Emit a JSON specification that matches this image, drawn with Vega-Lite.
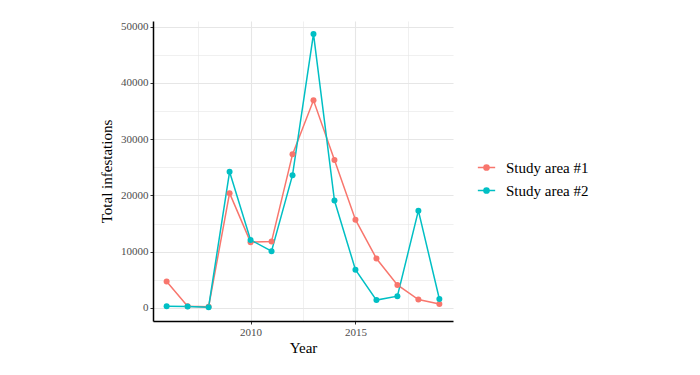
{
  "$schema": "https://vega.github.io/schema/vega-lite/v6.json",
  "width": 300,
  "height": 300,
  "autosize": {"type": "none"},
  "padding": {"left": 153, "top": 21, "right": 247, "bottom": 54},
  "background": "white",
  "config": {
    "font": "Liberation Serif",
    "axis": {"labelFont": "Liberation Serif", "titleFont": "Liberation Serif"},
    "legend": {"labelFont": "Liberation Serif"},
    "view": {"stroke": null}
  },
  "data": {
    "values": [
      {"year": 2006, "area": "Study area #1", "total": 4700},
      {"year": 2007, "area": "Study area #1", "total": 300},
      {"year": 2008, "area": "Study area #1", "total": 200},
      {"year": 2009, "area": "Study area #1", "total": 20400},
      {"year": 2010, "area": "Study area #1", "total": 11700},
      {"year": 2011, "area": "Study area #1", "total": 11800},
      {"year": 2012, "area": "Study area #1", "total": 27300},
      {"year": 2013, "area": "Study area #1", "total": 36900},
      {"year": 2014, "area": "Study area #1", "total": 26300},
      {"year": 2015, "area": "Study area #1", "total": 15700},
      {"year": 2016, "area": "Study area #1", "total": 8800},
      {"year": 2017, "area": "Study area #1", "total": 4100},
      {"year": 2018, "area": "Study area #1", "total": 1500},
      {"year": 2019, "area": "Study area #1", "total": 700},
      {"year": 2006, "area": "Study area #2", "total": 300},
      {"year": 2007, "area": "Study area #2", "total": 250},
      {"year": 2008, "area": "Study area #2", "total": 150},
      {"year": 2009, "area": "Study area #2", "total": 24200},
      {"year": 2010, "area": "Study area #2", "total": 12100},
      {"year": 2011, "area": "Study area #2", "total": 10100},
      {"year": 2012, "area": "Study area #2", "total": 23600},
      {"year": 2013, "area": "Study area #2", "total": 48700},
      {"year": 2014, "area": "Study area #2", "total": 19100},
      {"year": 2015, "area": "Study area #2", "total": 6800},
      {"year": 2016, "area": "Study area #2", "total": 1400},
      {"year": 2017, "area": "Study area #2", "total": 2100},
      {"year": 2018, "area": "Study area #2", "total": 17300},
      {"year": 2019, "area": "Study area #2", "total": 1600}
    ]
  },
  "mark": {"type": "line", "strokeWidth": 1.5, "point": {"filled": true, "size": 36, "opacity": 1}},
  "encoding": {
    "x": {
      "field": "year",
      "type": "quantitative",
      "scale": {"domain": [2005.35, 2019.65], "nice": false, "zero": false},
      "axis": {
        "title": "Year",
        "titleFontSize": 15,
        "titleFontWeight": "normal",
        "titleColor": "black",
        "titlePadding": 3,
        "values": [2007.5, 2010, 2012.5, 2015, 2017.5],
        "labelExpr": "datum.value % 5 == 0 ? format(datum.value, 'd') : ''",
        "labelFontSize": 11,
        "labelColor": "#4d4d4d",
        "labelPadding": 2,
        "tickColor": "#333333",
        "tickSize": 3,
        "tickOpacity": {"condition": {"test": "datum.value % 5 == 0", "value": 1}, "value": 0},
        "domainColor": "black",
        "domainWidth": 1.5,
        "grid": true,
        "gridColor": "#e6e6e6",
        "gridWidth": {"condition": {"test": "datum.value % 5 == 0", "value": 1.1}, "value": 0.6}
      }
    },
    "y": {
      "field": "total",
      "type": "quantitative",
      "scale": {"domain": [-2313, 51000], "nice": false, "zero": false},
      "axis": {
        "title": "Total infestations",
        "titleFontSize": 15,
        "titleFontWeight": "normal",
        "titleColor": "black",
        "titlePadding": 6,
        "values": [0, 5000, 10000, 15000, 20000, 25000, 30000, 35000, 40000, 45000, 50000],
        "labelExpr": "datum.value % 10000 == 0 ? format(datum.value, 'd') : ''",
        "labelFontSize": 11,
        "labelColor": "#4d4d4d",
        "labelPadding": 2,
        "tickColor": "#333333",
        "tickSize": 3,
        "tickOpacity": {"condition": {"test": "datum.value % 10000 == 0", "value": 1}, "value": 0},
        "domainColor": "black",
        "domainWidth": 1.5,
        "grid": true,
        "gridColor": "#e6e6e6",
        "gridWidth": {"condition": {"test": "datum.value % 10000 == 0", "value": 1.1}, "value": 0.6}
      }
    },
    "color": {
      "field": "area",
      "type": "nominal",
      "scale": {"domain": ["Study area #1", "Study area #2"], "range": ["#F8766D", "#00BFC4"]},
      "legend": {
        "title": null,
        "orient": "none",
        "legendX": 324,
        "legendY": 137,
        "labelFontSize": 15,
        "labelColor": "black",
        "labelOffset": 10,
        "rowPadding": 5,
        "symbolSize": 300,
        "symbolStrokeWidth": 1.5,
        "symbolType": "M-1,0H1M-0.3,0A0.3,0.3 0 1,1 0.3,0A0.3,0.3 0 1,1 -0.3,0Z"
      }
    }
  }
}
